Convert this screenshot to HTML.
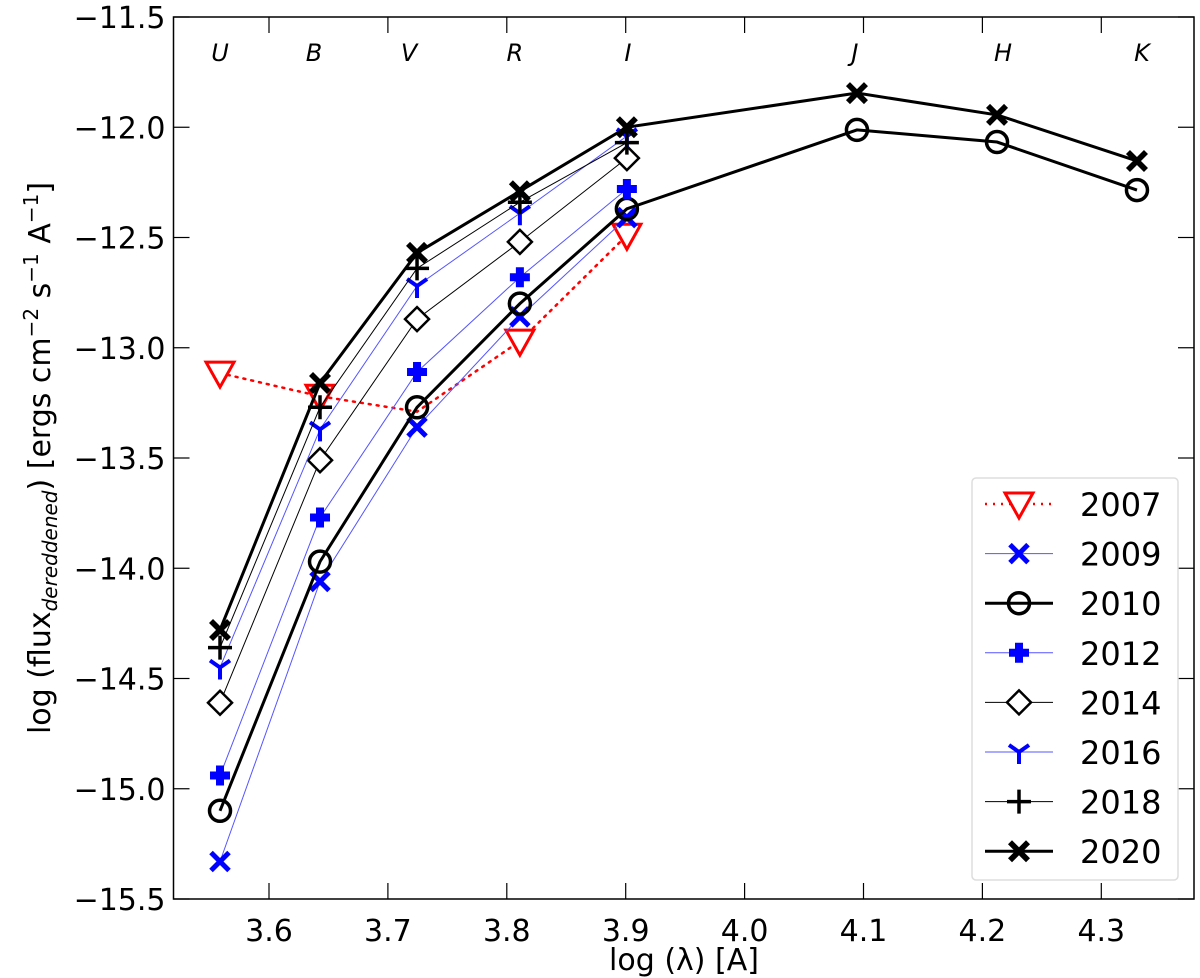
<!DOCTYPE html>
<html><head><meta charset="utf-8"><style>
html,body{margin:0;padding:0;background:#fff;}
svg{display:block;font-family:"DejaVu Sans","Liberation Sans",sans-serif;}
</style></head><body>
<svg id="chart" width="1200" height="978" viewBox="0 0 1200 978"></svg>
<script>
const bandNames = ["U","B","V","R","I","J","H","K"];
const bandLogLambda = [3.5588,3.6429,3.7245,3.811,3.901,4.0945,4.2123,4.330];
const xTicks = [3.6,3.7,3.8,3.9,4.0,4.1,4.2,4.3];
const xTickLabels = ["3.6","3.7","3.8","3.9","4.0","4.1","4.2","4.3"];
const yTicks = [-11.5,-12.0,-12.5,-13.0,-13.5,-14.0,-14.5,-15.0,-15.5];
const yTickLabels = ["\u221211.5","\u221212.0","\u221212.5","\u221213.0","\u221213.5","\u221214.0","\u221214.5","\u221215.0","\u221215.5"];
const years = ["2007","2009","2010","2012","2014","2016","2018","2020"];
const flux2007 = [-13.115,-13.22,-13.29,-12.97,-12.49];
const flux2009 = [-15.33,-14.06,-13.36,-12.86,-12.41];
const flux2010 = [-15.10,-13.97,-13.27,-12.80,-12.37,-12.012,-12.067,-12.285];
const flux2012 = [-14.94,-13.77,-13.11,-12.68,-12.28];
const flux2014 = [-14.61,-13.51,-12.87,-12.52,-12.14];
const flux2016 = [-14.45,-13.37,-12.72,-12.39,-12.04];
const flux2018 = [-14.36,-13.27,-12.64,-12.34,-12.07];
const flux2020 = [-14.28,-13.16,-12.57,-12.29,-12.0,-11.845,-11.944,-12.153];

const L=173.5,R=1194,T=17,B=899;
const xs=v=>269+(v-3.6)*1189;
const ys=v=>T+(-11.5-v)*220.5;
const svg=document.getElementById('chart');
const NS='http://www.w3.org/2000/svg';
function mk(tag,attrs,parent){const e=document.createElementNS(NS,tag);for(const k in attrs)e.setAttribute(k,attrs[k]);(parent||svg).appendChild(e);return e;}

const frame=mk('rect',{x:L,y:T,width:R-L,height:B-T,fill:'none',stroke:'#000','stroke-width':1.5});



xTicks.forEach((t,i)=>{
  const x=xs(t);
  const tb=mk('line',{x1:x,y1:B,x2:x,y2:B-16,stroke:'#000','stroke-width':1.2});
  
  
  const tt=mk('line',{x1:x,y1:T,x2:x,y2:T+16,stroke:'#000','stroke-width':1.2});
  
  
  const lb=mk('text',{x:x,y:B+42,'font-size':30,'text-anchor':'middle'});
  lb.textContent=xTickLabels[i];
  
  
});
yTicks.forEach((t,i)=>{
  const y=ys(t);
  const tl=mk('line',{x1:L,y1:y,x2:L+16,y2:y,stroke:'#000','stroke-width':1.2});
  
  
  const tr=mk('line',{x1:R,y1:y,x2:R-16,y2:y,stroke:'#000','stroke-width':1.2});
  
  
  const lb=mk('text',{x:L-8,y:y+11,'font-size':30,'text-anchor':'end'});
  lb.textContent=yTickLabels[i];
  
  
});
bandNames.forEach((n,i)=>{
  const off=[0,-6,-8,-5,1,-2,6,5][i];
  const t=mk('text',{x:xs(bandLogLambda[i])+off,y:61,'font-size':24,'font-style':'italic','text-anchor':'middle'});
  t.textContent=n;
  
  
});
const xt=mk('text',{x:684,y:970,'font-size':30,'text-anchor':'middle'});
xt.textContent='log (\u03bb) [A]';


const yt=mk('text',{x:0,y:0,'font-size':30,'text-anchor':'middle',transform:'translate(50,458) rotate(-90)'});
yt.innerHTML='log (flux<tspan font-size="20" font-style="italic" dy="7">dereddened</tspan><tspan dy="-7">) [ergs cm</tspan><tspan font-size="20" dy="-12">\u22122</tspan><tspan dy="12"> s</tspan><tspan font-size="20" dy="-12">\u22121</tspan><tspan dy="12"> A</tspan><tspan font-size="20" dy="-12">\u22121</tspan><tspan dy="12">]</tspan>';



function marker(type,x,y,color,g){
  let e;
  if(type==='tri'){e=mk('path',{d:`M${x-14},${y-11} L${x+14},${y-11} L${x},${y+14} Z`,fill:'#fff',stroke:color,'stroke-width':3},g);}
  else if(type==='x'){e=mk('path',{d:`M${x-9},${y-9} L${x+9},${y+9} M${x-9},${y+9} L${x+9},${y-9}`,stroke:color,'stroke-width':5},g);}
  else if(type==='o'){e=mk('circle',{cx:x,cy:y,r:10.5,fill:'none',stroke:color,'stroke-width':3.5},g);}
  else if(type==='P'){e=mk('path',{d:`M${x-4},${y-10}h8v6h6v8h-6v6h-8v-6h-6v-8h6z`,fill:color},g);}
  else if(type==='D'){e=mk('path',{d:`M${x},${y-12} L${x+12},${y} L${x},${y+12} L${x-12},${y} Z`,fill:'#fff',stroke:color,'stroke-width':2.5},g);}
  else if(type==='Y'){e=mk('path',{d:`M${x},${y} L${x},${y+12} M${x},${y} L${x-10},${y-7} M${x},${y} L${x+10},${y-7}`,stroke:color,'stroke-width':4,fill:'none'},g);}
  else if(type==='+'){e=mk('path',{d:`M${x-12},${y} L${x+12},${y} M${x},${y-12} L${x},${y+12}`,stroke:color,'stroke-width':3.5},g);}
  else if(type==='X'){e=mk('path',{d:`M${x-7},${y-11}l7,7l7,-7l4,4l-7,7l7,7l-4,4l-7,-7l-7,7l-4,-4l7,-7l-7,-7z`,fill:color},g);}
  
  
}
const series=[
 {data:flux2007,color:'#ff0000',w:2.5,dash:'2,6',m:'tri',skip:[2]},
 {data:flux2009,color:'#0000ff',w:1,m:'x',lc:'#5555ff'},
 {data:flux2010,color:'#000',w:3,m:'o'},
 {data:flux2012,color:'#0000ff',w:1,m:'P',lc:'#5555ff'},
 {data:flux2014,color:'#000',w:1,m:'D'},
 {data:flux2016,color:'#0000ff',w:1,m:'Y',lc:'#5555ff'},
 {data:flux2018,color:'#000',w:1,m:'+'},
 {data:flux2020,color:'#000',w:3,m:'X'}
];
series.forEach((s,si)=>{
  const g=mk('g',{});
  
  
  const pts=s.data.map((v,i)=>xs(bandLogLambda[i])+','+ys(v)).join(' ');
  const pl=mk('polyline',{points:pts,fill:'none',stroke:s.lc||s.color,'stroke-width':s.w,'stroke-dasharray':s.dash||'none','stroke-linecap':s.dash?'round':'butt'},g);
  
  
  s.data.forEach((v,i)=>{if(s.skip&&s.skip.includes(i))return;marker(s.m,xs(bandLogLambda[i]),ys(v),s.color,g);});
});
const lg=mk('g',{});


const lr=mk('rect',{x:972,y:478,width:206,height:402,rx:4,fill:'#fff',stroke:'#ddd','stroke-width':1.5},lg);


series.forEach((s,si)=>{
  const y=504+si*49.6;
  const eg=mk('g',{},lg);
  
  
  mk('line',{x1:985,y1:y,x2:1053,y2:y,stroke:s.lc||s.color,'stroke-width':s.w,'stroke-dasharray':s.dash||'none'},eg);
  marker(s.m,1019,y,s.color,eg);
  const t=mk('text',{x:1080,y:y+12,'font-size':32},eg);
  t.textContent=years[si];
});
</script>
</body></html>
